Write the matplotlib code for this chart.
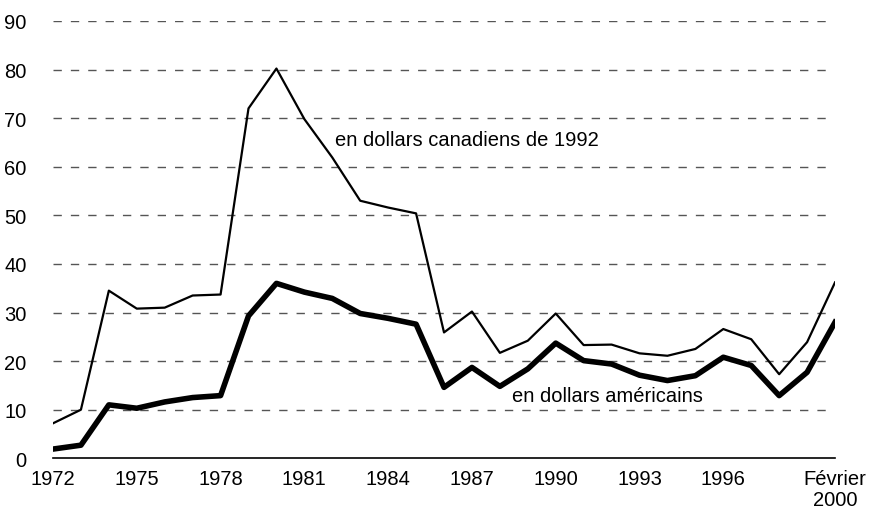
import matplotlib.pyplot as plt

plt.rcParams['font.family'] = ['Liberation Sans', 'DejaVu Sans']

# Years (last point is February 2000)
years = list(range(1972, 2001))
cad_1992 = [7.2, 10.0, 34.5, 30.8, 31.0, 33.5, 33.7, 72.0, 80.2, 69.8,
            61.9, 53.0, 51.6, 50.4, 25.9, 30.2, 21.7, 24.2, 29.8, 23.3,
            23.4, 21.6, 21.1, 22.5, 26.6, 24.5, 17.3, 23.9, 36.2]
usd = [1.9, 2.7, 11.0, 10.3, 11.6, 12.5, 12.9, 29.3, 36.0, 34.2,
       32.9, 29.8, 28.8, 27.6, 14.6, 18.7, 14.8, 18.4, 23.7, 20.1,
       19.4, 17.1, 16.0, 17.0, 20.8, 19.1, 12.9, 17.7, 28.0]

xtick_pos = [1972, 1975, 1978, 1981, 1984, 1987, 1990, 1993, 1996, 2000]
xtick_labels = ['1972', '1975', '1978', '1981', '1984', '1987', '1990',
                '1993', '1996', 'Février\n2000']
ytick_pos = list(range(0, 100, 10))

fig = plt.figure(figsize=(8.73, 5.1), dpi=100)
ax = fig.add_axes([0.0607, 0.0994, 0.8958, 0.8576])

# dashed gridlines
ax.hlines(ytick_pos[1:], 1972, 1999.75, colors='#555555', linestyles=(0, (6, 6.5)),
          linewidth=1, zorder=1)

ax.plot(years, cad_1992, color='black', linewidth=1.6, zorder=3)
ax.plot(years, usd, color='black', linewidth=4, zorder=3)

ax.text(1982.1, 65.6, 'en dollars canadiens de 1992', fontsize=14.5, va='center')
ax.text(1988.45, 12.9, 'en dollars américains', fontsize=14.5, va='center')

ax.set_xlim(1972, 2000)
ax.set_ylim(0, 90)
ax.set_xticks(xtick_pos)
ax.set_xticklabels(xtick_labels, linespacing=1.1)
ax.set_yticks(ytick_pos)
ax.tick_params(axis='both', length=0, labelsize=14.5)
ax.tick_params(axis='y', pad=19)
ax.tick_params(axis='x', pad=8)
for s in ['top', 'right', 'left']:
    ax.spines[s].set_visible(False)
ax.spines['bottom'].set_linewidth(1.2)

fig.savefig('out.png', dpi=100)
